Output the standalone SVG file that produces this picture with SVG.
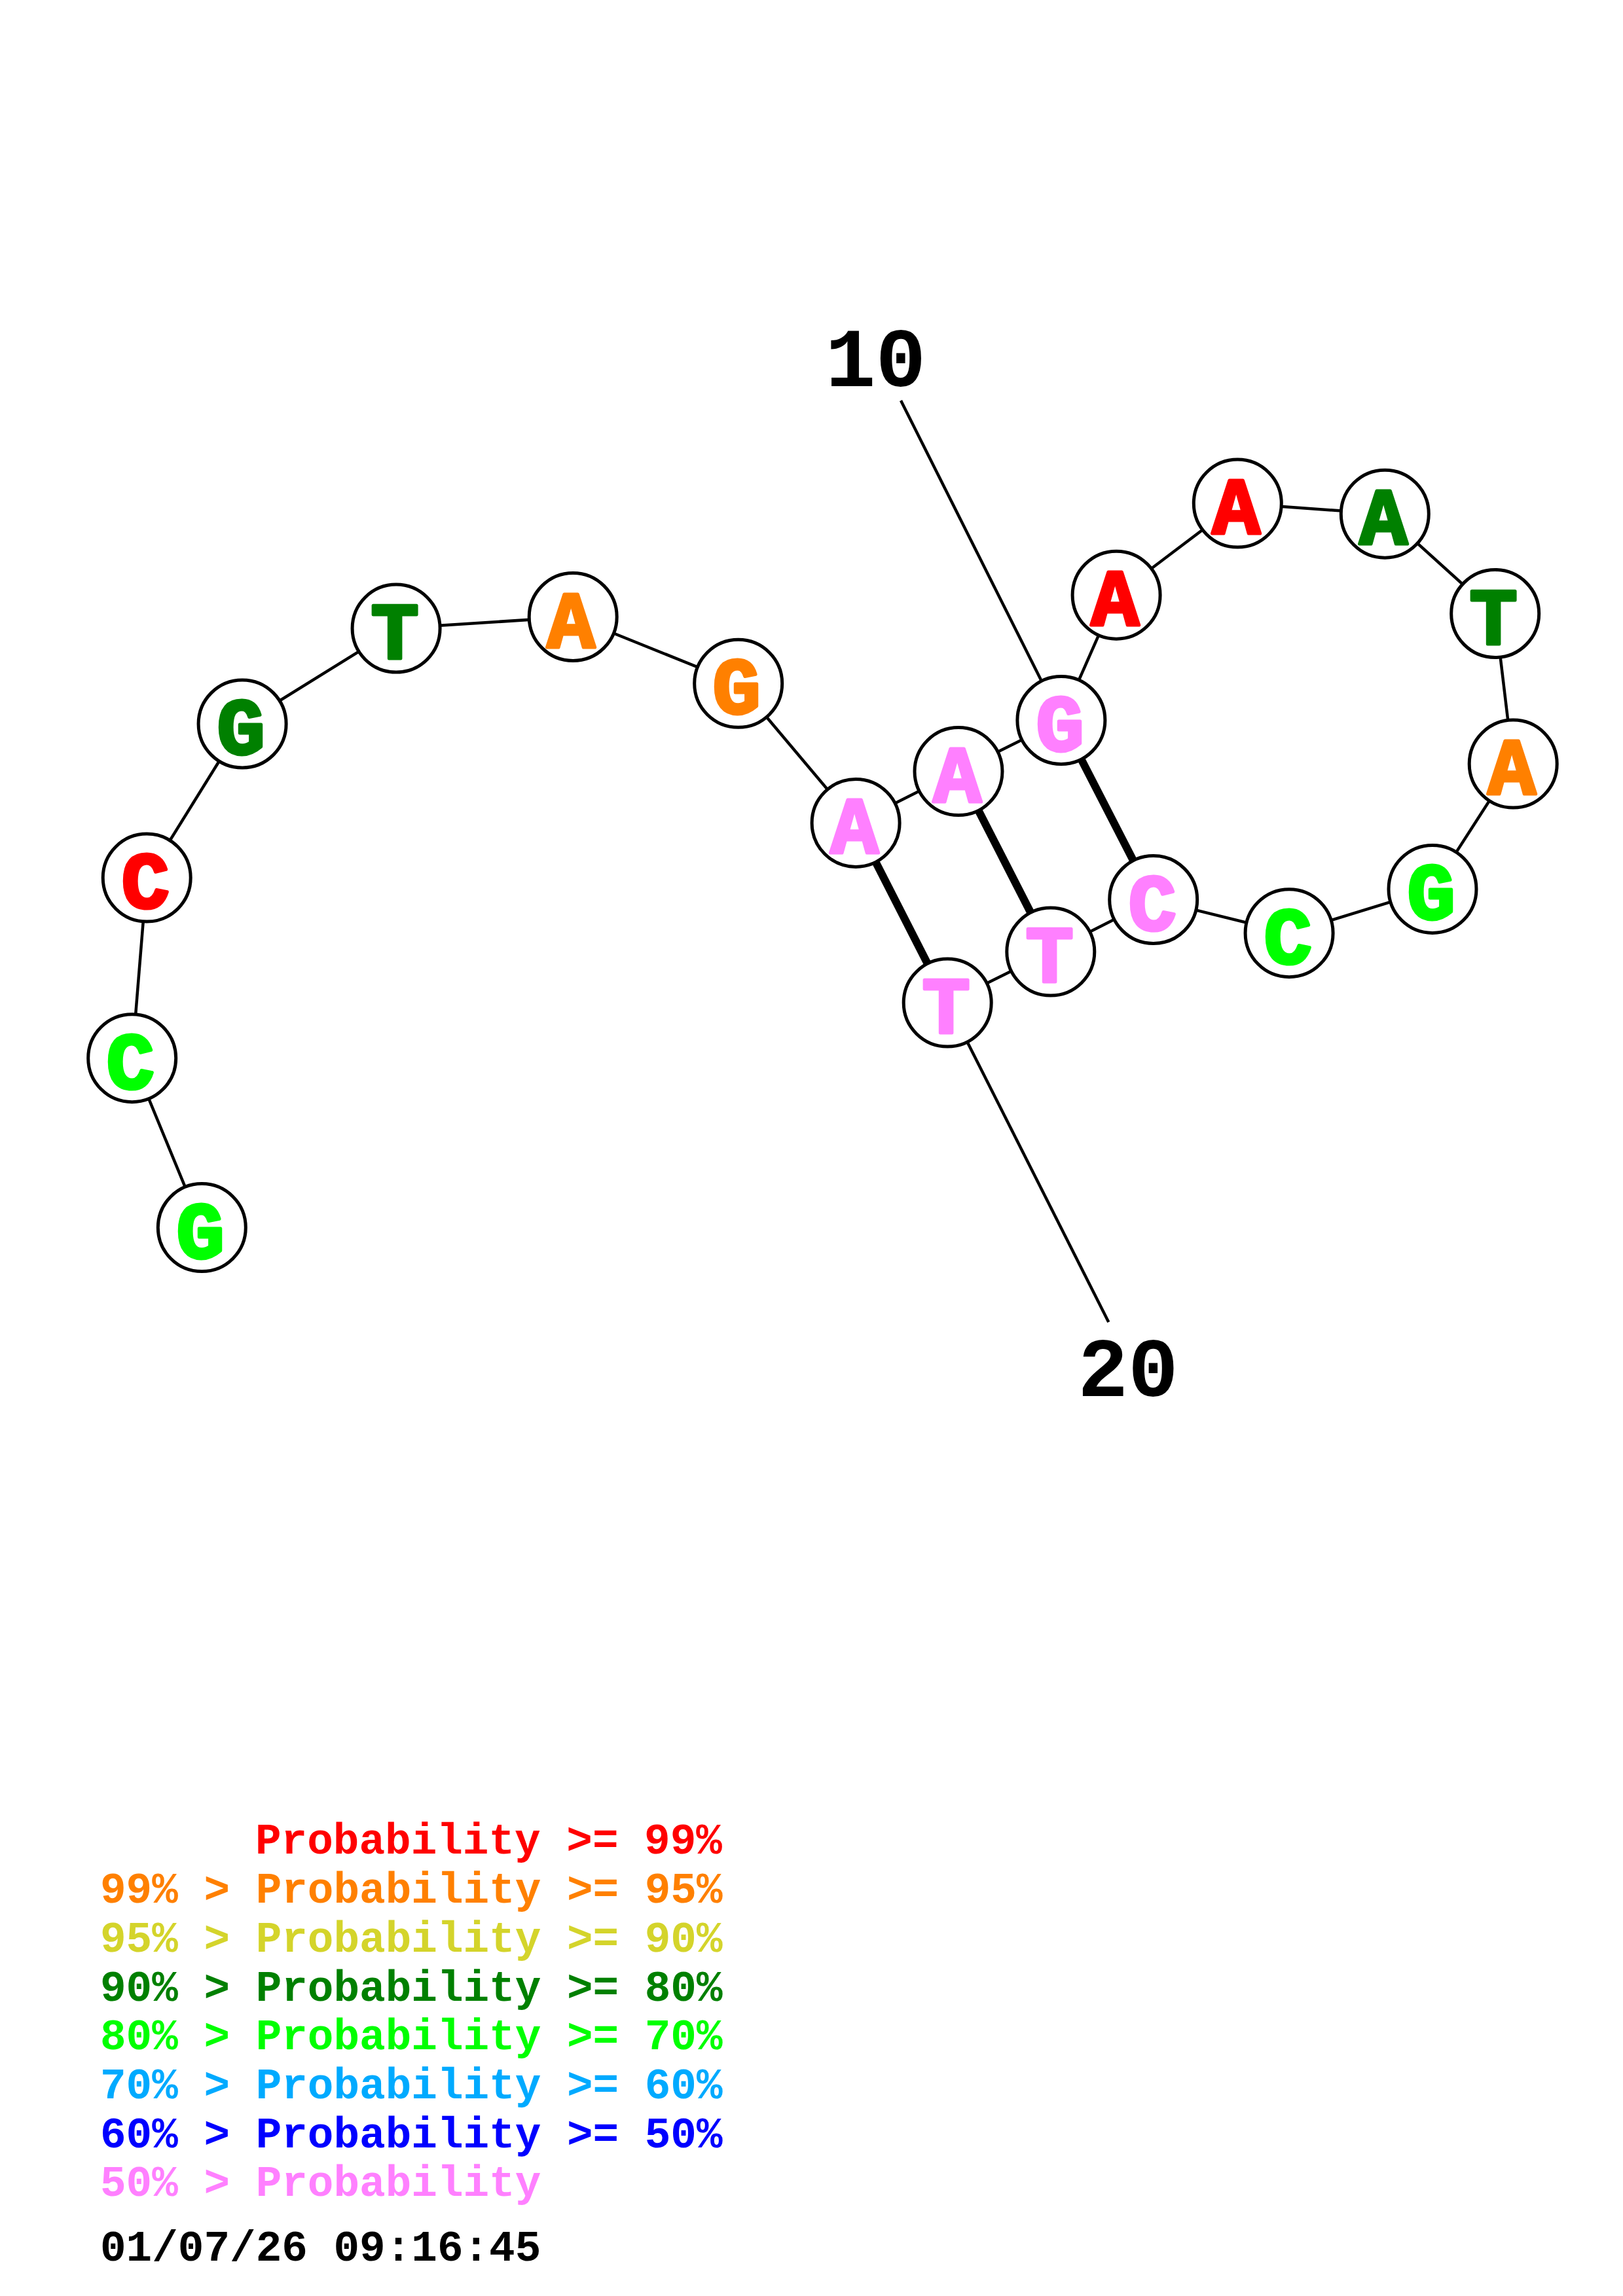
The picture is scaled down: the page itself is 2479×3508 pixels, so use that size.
<svg xmlns="http://www.w3.org/2000/svg" width="2479" height="3508" viewBox="0 0 2479 3508">
<style>
.bb{stroke:#000;stroke-width:4.5;fill:none}
.bp{stroke:#000;stroke-width:12;fill:none}
.nd circle{fill:#fff;stroke:#000;stroke-width:5}
.nd text{font-family:"Liberation Mono","DejaVu Sans Mono",monospace;font-weight:bold;font-size:122px;text-anchor:middle;stroke-width:5;stroke-linejoin:round}
.num{font-family:"Liberation Mono","DejaVu Sans Mono",monospace;font-weight:bold;font-size:128px;text-anchor:middle;fill:#000}
.lg{font-family:"Liberation Mono","DejaVu Sans Mono",monospace;font-weight:bold;font-size:66px}
.r{fill:#FF0000;stroke:#FF0000}.o{fill:#FF8000;stroke:#FF8000}.y{fill:#D4D42B}.dg{fill:#008000;stroke:#008000}.g{fill:#00FF00;stroke:#00FF00}.lb{fill:#00AAFF}.b{fill:#0000FF}.p{fill:#FF80FF;stroke:#FF80FF}.k{fill:#000}
.lg text{stroke:none}
</style>
<rect width="2479" height="3508" fill="#fff"/>
<g id="connectors">
<line class="bb" x1="1376" y1="612" x2="1620.9" y2="1100.5"/>
<line class="bb" x1="1447.2" y1="1532.1" x2="1693.3" y2="2020"/>
<line class="bb" x1="308.3" y1="1875.6" x2="201.7" y2="1616.7"/>
<line class="bb" x1="201.7" y1="1616.7" x2="224.2" y2="1341.1"/>
<line class="bb" x1="224.2" y1="1341.1" x2="370.1" y2="1106"/>
<line class="bb" x1="370.1" y1="1106" x2="605.1" y2="960.1"/>
<line class="bb" x1="605.1" y1="960.1" x2="875.2" y2="942.5"/>
<line class="bb" x1="875.2" y1="942.5" x2="1127.7" y2="1044.3"/>
<line class="bb" x1="1127.7" y1="1044.3" x2="1307.1" y2="1257.4"/>
<line class="bb" x1="1307.1" y1="1257.4" x2="1464" y2="1178.6"/>
<line class="bb" x1="1464" y1="1178.6" x2="1620.9" y2="1100.5"/>
<line class="bb" x1="1620.9" y1="1100.5" x2="1705.1" y2="909.2"/>
<line class="bb" x1="1705.1" y1="909.2" x2="1890.3" y2="769.1"/>
<line class="bb" x1="1890.3" y1="769.1" x2="2115.3" y2="785.2"/>
<line class="bb" x1="2115.3" y1="785.2" x2="2283.7" y2="937.5"/>
<line class="bb" x1="2283.7" y1="937.5" x2="2311.2" y2="1167.1"/>
<line class="bb" x1="2311.2" y1="1167.1" x2="2188" y2="1358.4"/>
<line class="bb" x1="2188" y1="1358.4" x2="1969.1" y2="1425.7"/>
<line class="bb" x1="1969.1" y1="1425.7" x2="1761.7" y2="1374.5"/>
<line class="bb" x1="1761.7" y1="1374.5" x2="1604.8" y2="1454.1"/>
<line class="bb" x1="1604.8" y1="1454.1" x2="1447.2" y2="1532.1"/>
<line class="bp" x1="1307.1" y1="1257.4" x2="1447.2" y2="1532.1"/>
<line class="bp" x1="1464" y1="1178.6" x2="1604.8" y2="1454.1"/>
<line class="bp" x1="1620.9" y1="1100.5" x2="1761.7" y2="1374.5"/>
</g>
<g id="n1" class="nd"><circle cx="308.3" cy="1875.6" r="67"/><text class="g" x="306" y="1921.6">G</text></g>
<g id="n2" class="nd"><circle cx="201.7" cy="1616.7" r="67"/><text class="g" x="199" y="1662.7">C</text></g>
<g id="n3" class="nd"><circle cx="224.2" cy="1341.1" r="67"/><text class="r" x="222" y="1387.1">C</text></g>
<g id="n4" class="nd"><circle cx="370.1" cy="1106" r="67"/><text class="dg" x="368" y="1152">G</text></g>
<g id="n5" class="nd"><circle cx="605.1" cy="960.1" r="67"/><text class="dg" x="603" y="1006.1">T</text></g>
<g id="n6" class="nd"><circle cx="875.2" cy="942.5" r="67"/><text class="o" x="872" y="988.5">A</text></g>
<g id="n7" class="nd"><circle cx="1127.7" cy="1044.3" r="67"/><text class="o" x="1125" y="1090.3">G</text></g>
<g id="n8" class="nd"><circle cx="1307.1" cy="1257.4" r="67"/><text class="p" x="1305" y="1303.4">A</text></g>
<g id="n9" class="nd"><circle cx="1464" cy="1178.6" r="67"/><text class="p" x="1462" y="1224.6">A</text></g>
<g id="n10" class="nd"><circle cx="1620.9" cy="1100.5" r="67"/><text class="p" x="1619" y="1146.5">G</text></g>
<g id="n11" class="nd"><circle cx="1705.1" cy="909.2" r="67"/><text class="r" x="1703" y="955.2">A</text></g>
<g id="n12" class="nd"><circle cx="1890.3" cy="769.1" r="67"/><text class="r" x="1888" y="815.1">A</text></g>
<g id="n13" class="nd"><circle cx="2115.3" cy="785.2" r="67"/><text class="dg" x="2113" y="831.2">A</text></g>
<g id="n14" class="nd"><circle cx="2283.7" cy="937.5" r="67"/><text class="dg" x="2281" y="983.5">T</text></g>
<g id="n15" class="nd"><circle cx="2311.2" cy="1167.1" r="67"/><text class="o" x="2309" y="1213.1">A</text></g>
<g id="n16" class="nd"><circle cx="2188" cy="1358.4" r="67"/><text class="g" x="2186" y="1404.4">G</text></g>
<g id="n17" class="nd"><circle cx="1969.1" cy="1425.7" r="67"/><text class="g" x="1967" y="1471.7">C</text></g>
<g id="n18" class="nd"><circle cx="1761.7" cy="1374.5" r="67"/><text class="p" x="1760" y="1420.5">C</text></g>
<g id="n19" class="nd"><circle cx="1604.8" cy="1454.1" r="67"/><text class="p" x="1603" y="1500.1">T</text></g>
<g id="n20" class="nd"><circle cx="1447.2" cy="1532.1" r="67"/><text class="p" x="1445" y="1578.1">T</text></g>
<g id="labels">
<text class="num" x="1337.5" y="590">10</text>
<text class="num" x="1723" y="2133">20</text>
</g>
<g id="legend" class="lg">
<text class="r" x="390" y="2832">Probability &gt;= 99%</text>
<text class="o" x="153" y="2907">99% &gt; Probability &gt;= 95%</text>
<text class="y" x="153" y="2982">95% &gt; Probability &gt;= 90%</text>
<text class="dg" x="153" y="3057">90% &gt; Probability &gt;= 80%</text>
<text class="g" x="153" y="3131">80% &gt; Probability &gt;= 70%</text>
<text class="lb" x="153" y="3206">70% &gt; Probability &gt;= 60%</text>
<text class="b" x="153" y="3281">60% &gt; Probability &gt;= 50%</text>
<text class="p" x="153" y="3355">50% &gt; Probability</text>
<text class="k" x="153" y="3454">01/07/26 09:16:45</text>
</g>
</svg>
